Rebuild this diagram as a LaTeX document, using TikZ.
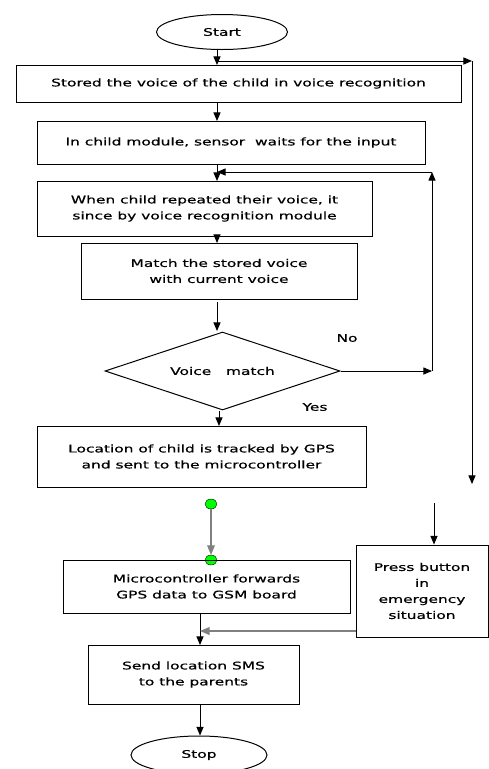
\documentclass[tikz,border=0pt]{standalone}
\usepackage{fontspec}
\setmainfont{DejaVu Sans}[FakeStretch=1.47, FakeBold=0.6]
\usetikzlibrary{shapes.geometric,arrows}

\tikzset{
  box/.style={draw, line width=1pt, rectangle, inner sep=0pt, align=center, font=\fontsize{10.5}{16}\selectfont},
  term/.style={draw, line width=1pt, ellipse, inner sep=0pt, font=\fontsize{10.5}{16}\selectfont},
  decide/.style={draw, line width=1pt, diamond, inner sep=0pt, aspect=3, font=\fontsize{10.5}{16}\selectfont},
  dot/.style={draw, fill=green, ellipse, inner sep=0pt, minimum width=12pt, minimum height=10pt},
  arr/.style={line width=1pt, -triangle 45},
  garr/.style={line width=1.2pt, gray, -triangle 45},
  lbl/.style={font=\fontsize{10.5}{12}\selectfont}
}

\begin{document}
\begin{tikzpicture}[x=1pt, y=-1pt]
  \useasboundingbox (0,0) rectangle (489,769);
  \node[term, minimum width=131pt, minimum height=35pt] (start) at (222,32) {Start};
  \node[box, minimum width=445pt, minimum height=37pt] (b1) at (238.5,83.5) {Stored the voice of the child in voice recognition};
  \node[box, minimum width=388pt, minimum height=43pt] (b2) at (231,142.5) {In child module, sensor\ \ waits for the input};
  \node[box, minimum width=335pt, minimum height=55pt] (b3) at (204.5,208.5) {When child repeated their voice, it\\since by voice recognition module};
  \node[box, minimum width=276pt, minimum height=56pt] (b4) at (219,271) {Match the stored voice\\with current voice};
  \node[decide, minimum width=235pt, minimum height=78pt] (dec) at (222.5,371) {Voice\ \ \ match};
  \node[box, minimum width=329pt, minimum height=61pt] (b5) at (201.5,456.5) {Location of child is tracked by GPS\\and sent to the microcontroller};
  \node[dot] (g1) at (211,504) {};
  \node[dot] (g2) at (211,560) {};
  \node[box, minimum width=287pt, minimum height=53pt] (b6) at (206.5,586.5) {Microcontroller forwards\\GPS data to GSM board};
  \node[box, minimum width=132pt, minimum height=92pt] (b7) at (422,591) {Press button\\in\\emergency\\situation};
  \node[box, minimum width=211pt, minimum height=59pt] (b8) at (193.5,674.5) {Send location SMS\\to the parents};
  \node[term, minimum width=136pt, minimum height=38pt] (stop) at (199,755) {Stop};
  \node[lbl] (no) at (347,338) {No};
  \node[lbl] (yes) at (315,407) {Yes};

  \coordinate (r1) at (472,61);
  \coordinate (r2) at (472,484);
  \coordinate (r3) at (434,503);
  \coordinate (n1) at (432,371);
  \coordinate (n2) at (432,172);
  \coordinate (e1) at (356,631);

  \draw[arr] (start.south -| 217,0) -- (217,65);
  \draw[arr] (217,61) -- (r1);
  \draw[arr] (r1) -- (r2);
  \draw[arr] (r3) -- (r3 |- b7.north);
  \draw[arr] (217,102) -- (217,121);
  \draw[arr] (217,164) -- (217,181);
  \draw[arr] (dec.east) -- (n1);
  \draw[arr] (n1) -- (n2);
  \draw[arr] (n2) -- (217,172);
  \draw[arr] (217,236) -- (217,243);
  \draw[arr] (217,302) -- (217,331);
  \draw[arr] (dec.south -| 219,0) -- (219,426);
  \draw[garr] (g1) -- (g2);
  \draw[arr] (200,613) -- (200,645);
  \draw[garr] (e1) -- (200,631);
  \draw[arr] (b8.south -| 200,0) -- (stop.north -| 200,0);
\end{tikzpicture}
\end{document}
